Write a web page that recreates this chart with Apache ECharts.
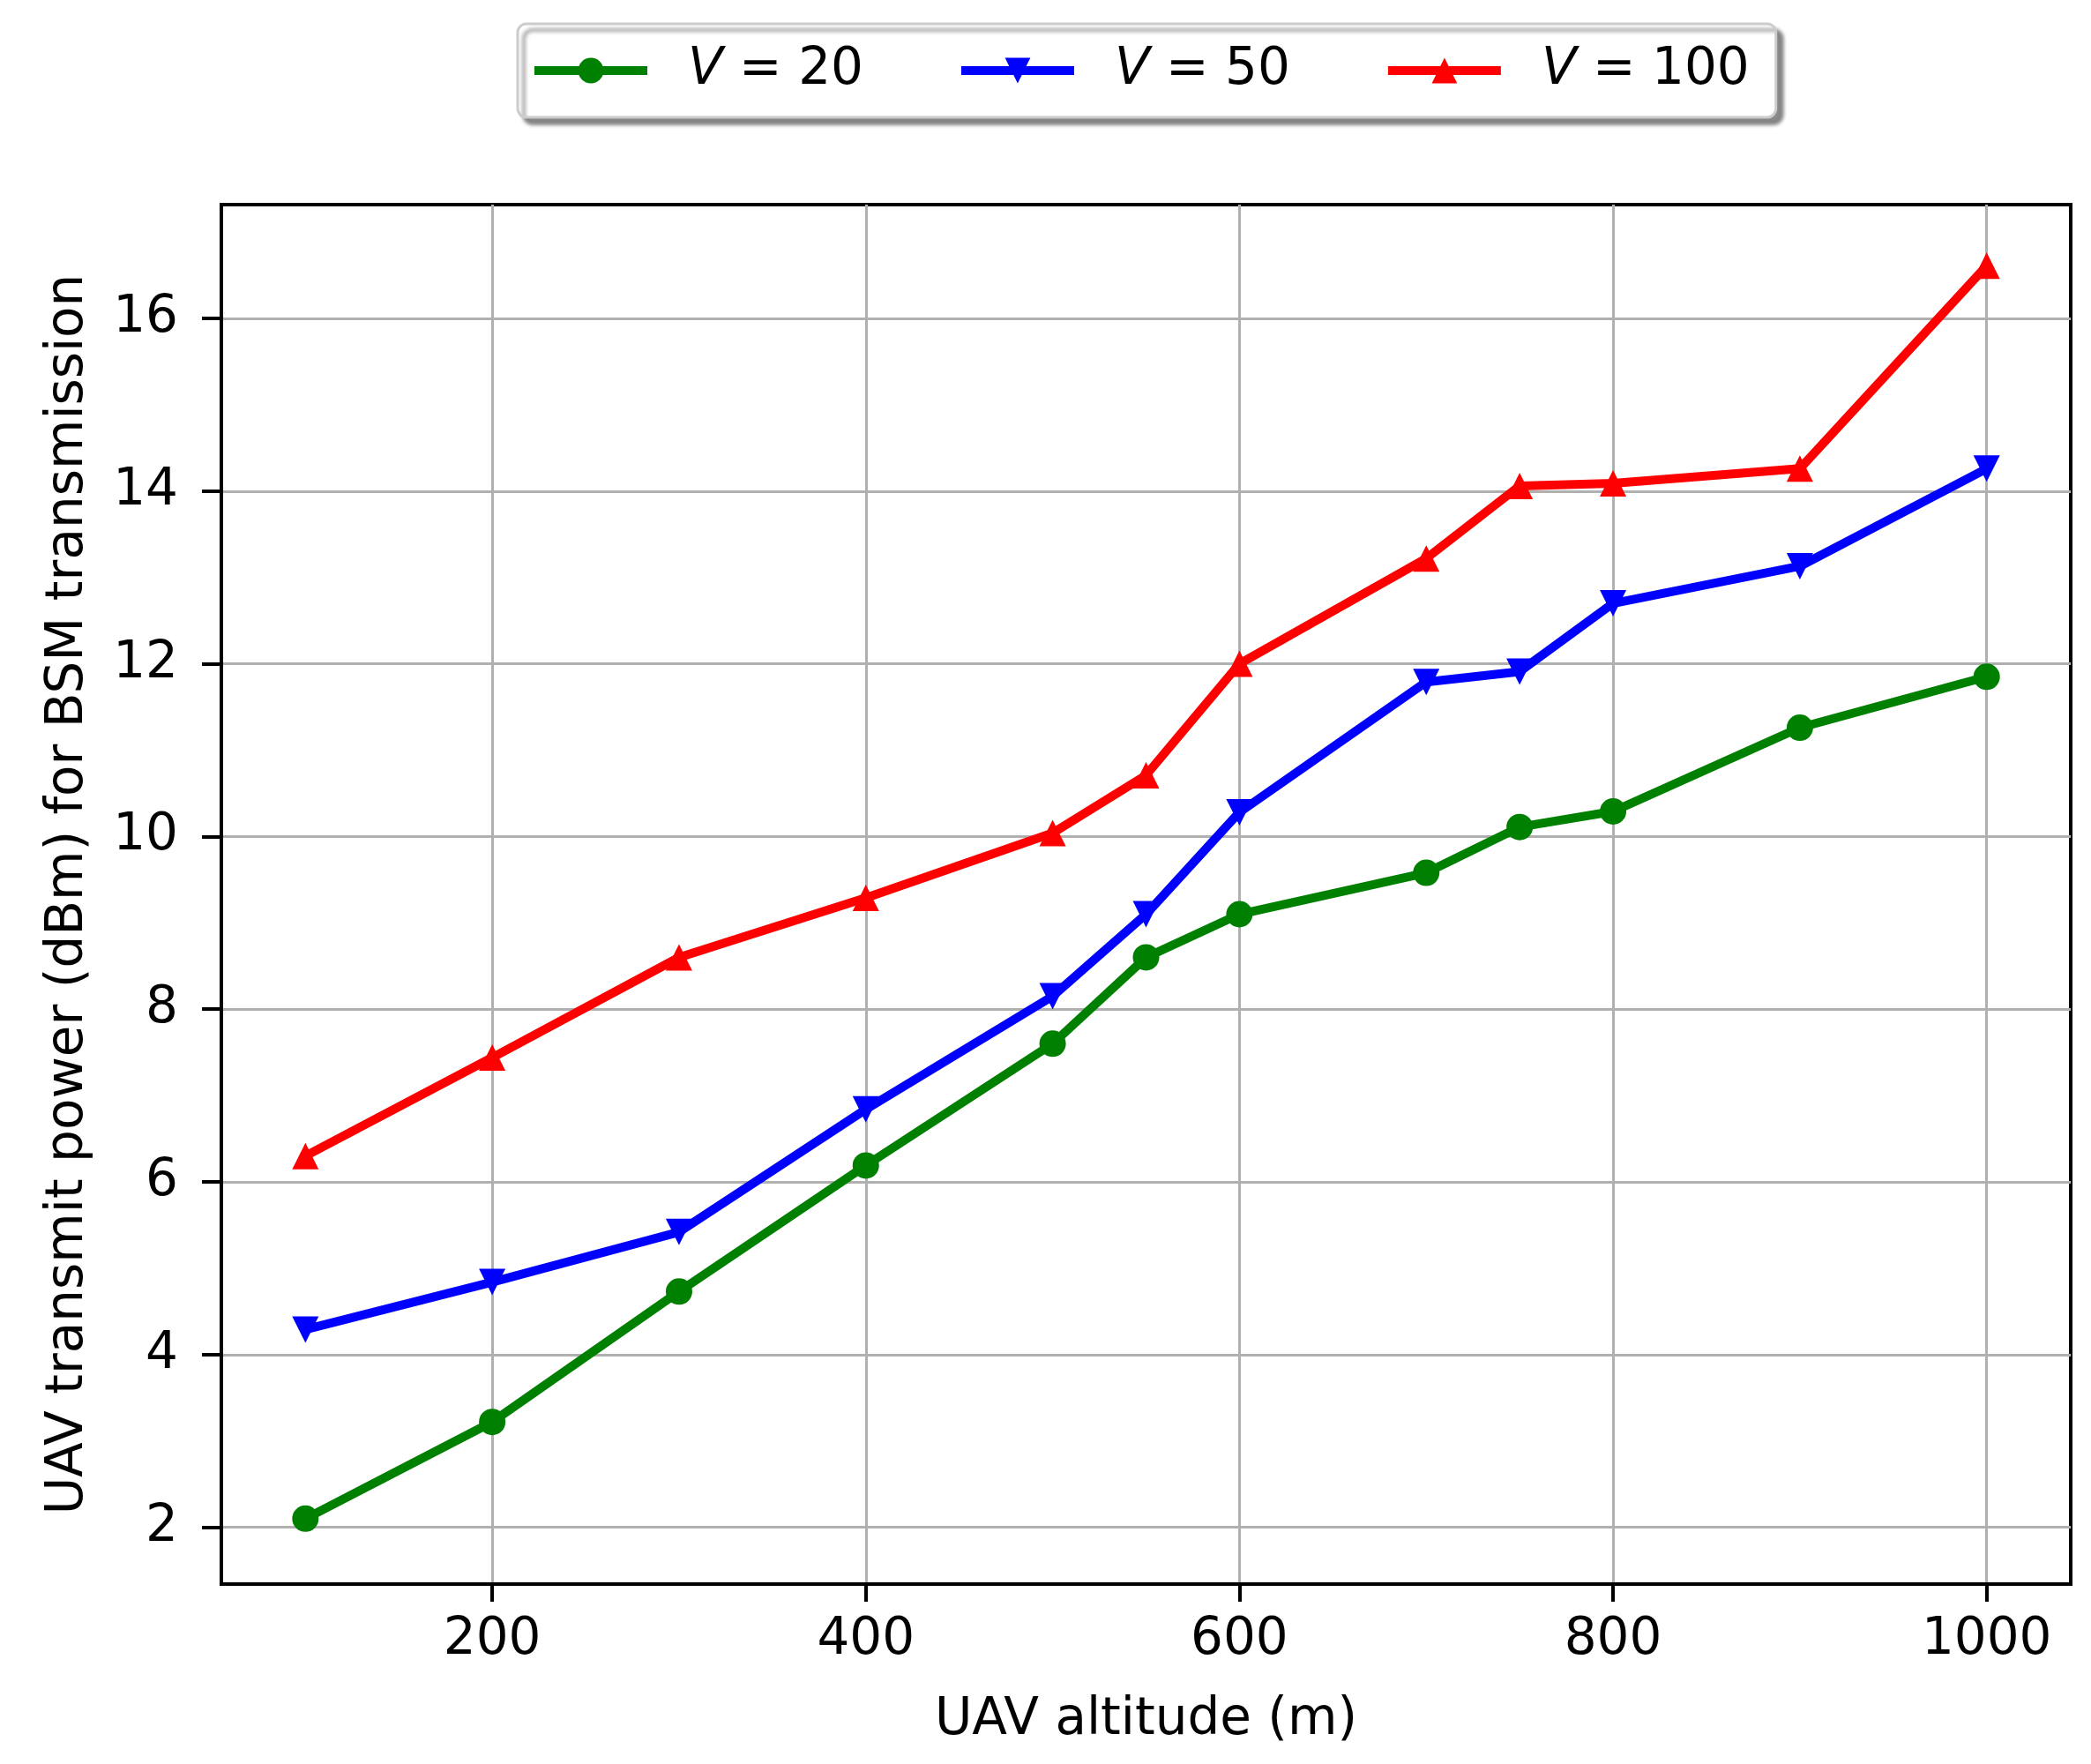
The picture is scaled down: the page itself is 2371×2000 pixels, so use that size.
<!DOCTYPE html>
<html>
<head>
<meta charset="utf-8">
<script src="https://cdn.jsdelivr.net/npm/echarts@6/dist/echarts.min.js"></script>
<style>
html,body{margin:0;padding:0;background:#fff;}
#chart{width:2371px;height:2000px;}
</style>
</head>
<body>
<div id="chart"></div>
<script>
const altitudes = [100, 200, 300, 400, 500, 550, 600, 700, 750, 800, 900, 1000];
const v20  = [2.10, 3.22, 4.73, 6.19, 7.60, 8.60, 9.10, 9.58, 10.11, 10.29, 11.26, 11.85];
const v50  = [4.29, 4.84, 5.42, 6.84, 8.15, 9.10, 10.28, 11.79, 11.91, 12.70, 13.13, 14.26];
const v100 = [6.30, 7.44, 8.60, 9.29, 10.04, 10.71, 12.00, 13.22, 14.06, 14.09, 14.26, 16.61];
const seriesNames = ['V = 20', 'V = 50', 'V = 100'];
const xTicks = [200, 400, 600, 800, 1000];
const yTicks = [2, 4, 6, 8, 10, 12, 14, 16];
const xTitle = 'UAV altitude (m)';
const yTitle = 'UAV transmit power (dBm) for BSM transmission';

const FONT = 'DejaVu Sans';
const FS = 58;

function pairs(ys) { return altitudes.map((x, i) => [x, ys[i]]); }

const chart = echarts.init(document.getElementById('chart'), null, {renderer: 'canvas'});

function mkSeries(name, ys, color, symbol, rotate) {
  return {
    name: name,
    type: 'line',
    data: pairs(ys),
    symbol: symbol,
    symbolSize: 30,
    symbolRotate: rotate,
    showSymbol: true,
    lineStyle: {color: color, width: 10},
    itemStyle: {color: color, borderWidth: 0},
    emphasis: {disabled: true},
    animation: false
  };
}

chart.setOption({
  backgroundColor: '#ffffff',
  animation: false,
  textStyle: {fontFamily: FONT},
  grid: {
    left: 251, right: 23, top: 232, bottom: 204,
    show: true, borderColor: '#000', borderWidth: 4, backgroundColor: 'transparent'
  },
  legend: {
    left: 587, top: 27,
    orient: 'horizontal',
    padding: [24, 30, 24, 14],
    itemGap: 106,
    itemWidth: 128,
    itemHeight: 36,
    lineStyle: {width: 10},
    backgroundColor: '#fff',
    borderColor: '#cccccc',
    borderWidth: 3,
    borderRadius: 10,
    shadowColor: 'rgba(0,0,0,0.45)',
    shadowBlur: 4,
    shadowOffsetX: 7,
    shadowOffsetY: 7,
    formatter: function (n) {
      return '{i|V}' + n.substring(1);
    },
    textStyle: {
      fontFamily: FONT, fontSize: FS, color: '#000',
      padding: [0, 0, 0, 41],
      rich: {i: {fontFamily: FONT, fontSize: FS, fontStyle: 'italic', color: '#000'}}
    },
    data: seriesNames
  },
  xAxis: {
    type: 'value',
    min: 55, max: 1045,
    name: xTitle,
    nameLocation: 'middle',
    nameGap: 126,
    nameTextStyle: {fontFamily: FONT, fontSize: FS, color: '#000'},
    axisLine: {show: true, lineStyle: {color: '#000', width: 4}},
    axisTick: {show: true, inside: false, length: 20, customValues: xTicks, lineStyle: {color: '#000', width: 4}},
    axisLabel: {show: true, margin: 35, customValues: xTicks, fontFamily: FONT, fontSize: FS, color: '#000',
      formatter: function (v) { return String(v); }},
    splitLine: {show: true, lineStyle: {color: '#b0b0b0', width: 3}}
  },
  yAxis: {
    type: 'value',
    min: 1.3425, max: 17.3175,
    name: yTitle,
    nameLocation: 'middle',
    nameGap: 144,
    nameRotate: 90,
    nameTextStyle: {fontFamily: FONT, fontSize: FS, color: '#000'},
    axisLine: {show: true, lineStyle: {color: '#000', width: 4}},
    axisTick: {show: true, inside: false, length: 22, customValues: yTicks, lineStyle: {color: '#000', width: 4}},
    axisLabel: {show: true, margin: 49, customValues: yTicks, fontFamily: FONT, fontSize: FS, color: '#000',
      formatter: function (v) { return String(v); }},
    splitLine: {show: true, lineStyle: {color: '#b0b0b0', width: 3}}
  },
  series: [
    mkSeries(seriesNames[0], v20, '#008000', 'circle', 0),
    mkSeries(seriesNames[1], v50, '#0000ff', 'triangle', 180),
    mkSeries(seriesNames[2], v100, '#ff0000', 'triangle', 0)
  ]
});
</script>
</body>
</html>
